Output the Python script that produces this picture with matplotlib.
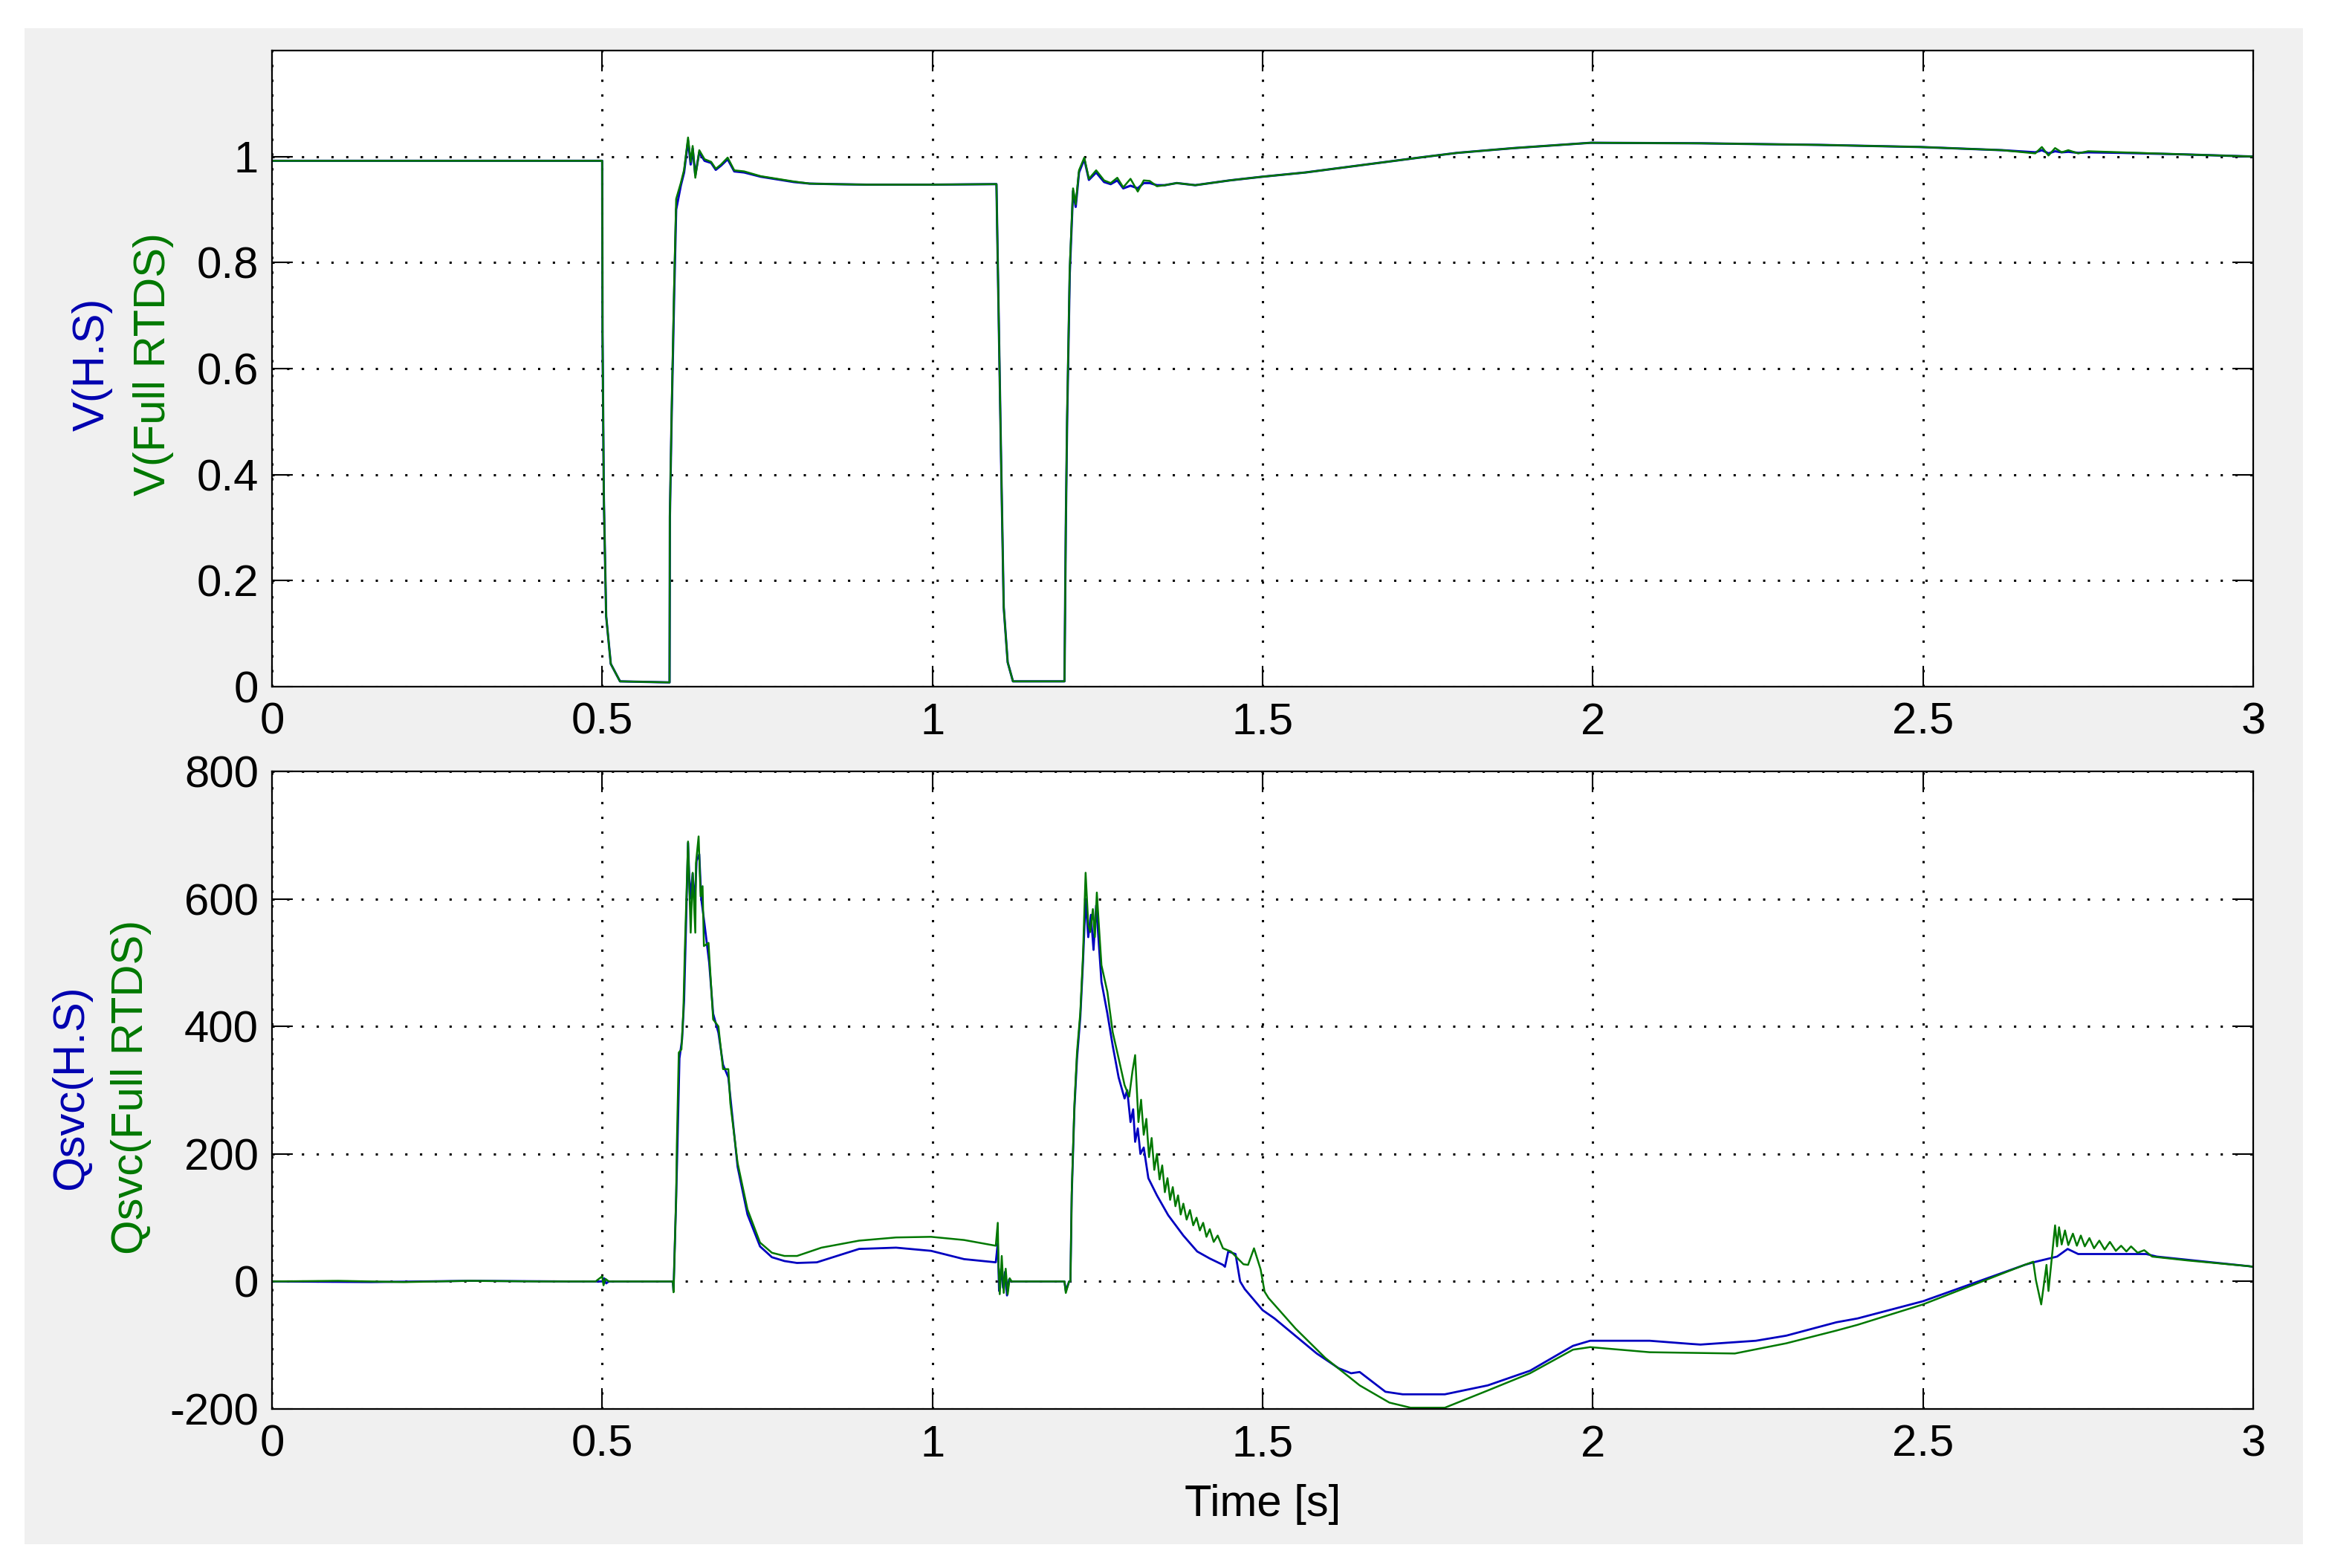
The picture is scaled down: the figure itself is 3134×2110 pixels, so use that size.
import matplotlib
matplotlib.use("Agg")
import matplotlib.pyplot as plt
from matplotlib.patches import Rectangle

# ---------------- data ----------------
t_v = [
    0.000, 0.500, 0.5005, 0.5025, 0.506, 0.513, 0.527, 0.602, 0.6025, 0.605,
    0.609, 0.612, 0.619, 0.624, 0.630, 0.634, 0.637, 0.641, 0.647, 0.655,
    0.665, 0.672, 0.680, 0.690, 0.700, 0.715, 0.740, 0.765, 0.790, 0.814,
    0.850, 0.900, 1.000, 1.097, 1.099, 1.104, 1.108, 1.114, 1.122, 1.200,
    1.202, 1.204, 1.208, 1.213, 1.217, 1.222, 1.230, 1.237, 1.248, 1.260,
    1.270, 1.280, 1.289, 1.300, 1.311, 1.320, 1.329, 1.340, 1.352, 1.370,
    1.398, 1.450, 1.500, 1.565, 1.651, 1.737, 1.795, 1.881, 1.997, 2.164,
    2.343, 2.496, 2.620, 2.670, 2.680, 2.690, 2.700, 2.710, 2.720, 2.735,
    2.750, 2.800, 2.897, 3.000]
v_hs = [
    0.992, 0.992, 0.665, 0.356, 0.133, 0.043, 0.010, 0.008, 0.320, 0.500,
    0.740, 0.900, 0.945, 0.970, 1.030, 0.985, 1.015, 0.965, 1.008, 0.992,
    0.988, 0.975, 0.983, 0.995, 0.972, 0.970, 0.962, 0.957, 0.952, 0.949,
    0.948, 0.947, 0.947, 0.948, 0.800, 0.430, 0.150, 0.046, 0.010, 0.010,
    0.300, 0.500, 0.780, 0.935, 0.905, 0.970, 0.995, 0.956, 0.970, 0.952,
    0.948, 0.955, 0.940, 0.945, 0.940, 0.950, 0.950, 0.946, 0.946, 0.950,
    0.946, 0.955, 0.962, 0.970, 0.984, 0.998, 1.007, 1.016, 1.026, 1.025,
    1.022, 1.018, 1.012, 1.008, 1.012, 1.006, 1.010, 1.008, 1.009, 1.007,
    1.008, 1.007, 1.004, 1.000]
v_rtds = [
    0.992, 0.992, 0.665, 0.356, 0.133, 0.043, 0.010, 0.008, 0.320, 0.510,
    0.760, 0.920, 0.950, 0.975, 1.036, 0.990, 1.020, 0.960, 1.012, 0.995,
    0.990, 0.977, 0.985, 0.998, 0.974, 0.972, 0.963, 0.958, 0.953, 0.949,
    0.948, 0.947, 0.947, 0.948, 0.800, 0.430, 0.150, 0.046, 0.010, 0.010,
    0.300, 0.510, 0.790, 0.940, 0.910, 0.974, 0.998, 0.958, 0.974, 0.955,
    0.950, 0.960, 0.942, 0.958, 0.934, 0.955, 0.954, 0.944, 0.946, 0.950,
    0.946, 0.955, 0.962, 0.970, 0.984, 0.998, 1.007, 1.016, 1.026, 1.025,
    1.022, 1.018, 1.012, 1.006, 1.018, 1.002, 1.016, 1.008, 1.012, 1.006,
    1.010, 1.008, 1.004, 1.000]

t_q_hs = [
    0.000, 0.150, 0.300, 0.450, 0.500, 0.503, 0.506, 0.510, 0.607, 0.608,
    0.612, 0.614, 0.617, 0.621, 0.624, 0.627, 0.630, 0.633, 0.637, 0.640,
    0.643, 0.647, 0.650, 0.655, 0.662, 0.668, 0.676, 0.683, 0.691, 0.697,
    0.705, 0.720, 0.739, 0.757, 0.776, 0.795, 0.825, 0.889, 0.945, 0.998,
    1.048, 1.096, 1.099, 1.101, 1.104, 1.107, 1.110, 1.113, 1.116, 1.120,
    1.200, 1.202, 1.207, 1.209, 1.211, 1.215, 1.219, 1.224, 1.228, 1.232,
    1.236, 1.240, 1.244, 1.248, 1.252, 1.256, 1.265, 1.273, 1.282, 1.291,
    1.295, 1.300, 1.304, 1.307, 1.311, 1.315, 1.320, 1.327, 1.340, 1.357,
    1.380, 1.401, 1.420, 1.440, 1.443, 1.448, 1.459, 1.466, 1.473, 1.500,
    1.518, 1.582, 1.615, 1.634, 1.647, 1.686, 1.712, 1.776, 1.841, 1.905,
    1.970, 1.996, 2.086, 2.149, 2.163, 2.247, 2.293, 2.369, 2.401, 2.500,
    2.654, 2.671, 2.703, 2.719, 2.735, 2.838, 2.854, 2.993, 3.000]
q_hs = [
    0, -1, 1, 0, 0, 5, -3, 0, 0, -15,
    130, 215, 350, 380, 440, 560, 688, 600, 640, 590,
    660, 670, 600, 560, 500, 420, 390, 340, 320, 260,
    180, 105, 55, 38, 32, 29, 30, 51, 53, 48,
    35, 30, 60, -15, 20, -10, 15, -22, 3, 0,
    0, -15, 0, 0, 135, 270, 350, 415, 500, 600,
    540, 575, 520, 590, 530, 470, 420, 370, 320, 287,
    300, 250, 270, 219, 240, 200, 210, 162, 135, 104,
    72, 47, 36, 26, 23, 47, 43, 0, -12, -45,
    -58, -113, -136, -144, -142, -173, -177, -177, -163, -140,
    -101, -93, -93, -98, -99, -93, -85, -64, -58, -31,
    26, 31, 39, 51, 43, 43, 39, 24, 23]

t_q_rtds = [
    0.000, 0.100, 0.200, 0.300, 0.400, 0.490, 0.500, 0.502, 0.505, 0.510,
    0.600, 0.607, 0.608, 0.612, 0.613, 0.616, 0.620, 0.623, 0.625, 0.630,
    0.634, 0.637, 0.641, 0.642, 0.646, 0.649, 0.652, 0.654, 0.661, 0.668,
    0.676, 0.683, 0.691, 0.694, 0.705, 0.720, 0.739, 0.757, 0.776, 0.795,
    0.832, 0.889, 0.945, 0.998, 1.048, 1.096, 1.099, 1.100, 1.102, 1.105,
    1.108, 1.111, 1.114, 1.117, 1.120, 1.200, 1.202, 1.207, 1.209, 1.211,
    1.215, 1.219, 1.224, 1.228, 1.232, 1.236, 1.239, 1.243, 1.246, 1.249,
    1.252, 1.256, 1.265, 1.273, 1.282, 1.291, 1.298, 1.303, 1.307, 1.312,
    1.316, 1.320, 1.324, 1.328, 1.332, 1.336, 1.340, 1.344, 1.348, 1.352,
    1.356, 1.360, 1.364, 1.368, 1.372, 1.376, 1.380, 1.385, 1.390, 1.395,
    1.400, 1.405, 1.410, 1.415, 1.420, 1.426, 1.432, 1.440, 1.452, 1.471,
    1.478, 1.487, 1.497, 1.503, 1.509, 1.550, 1.595, 1.647, 1.692, 1.724,
    1.776, 1.841, 1.905, 1.970, 1.996, 2.086, 2.215, 2.293, 2.369, 2.401,
    2.500, 2.654, 2.667, 2.671, 2.679, 2.687, 2.690, 2.700, 2.703, 2.706,
    2.710, 2.715, 2.720, 2.727, 2.733, 2.739, 2.745, 2.752, 2.759, 2.767,
    2.775, 2.783, 2.792, 2.800, 2.808, 2.815, 2.825, 2.835, 2.847, 2.900,
    2.993, 3.000]
q_rtds = [
    0, 1, -1, 1, 0, 0, 8, -6, 4, 0,
    0, 0, -17, 134, 212, 359, 364, 427, 515, 690,
    547, 641, 547, 656, 698, 604, 620, 526, 531, 411,
    400, 333, 333, 280, 186, 113, 61, 45, 40, 40,
    53, 64, 69, 70, 65, 56, 92, 30, -20, 40,
    -18, 20, -20, 5, 0, 0, -18, 0, 0, 141,
    276, 360, 422, 511, 641, 560, 548, 584, 540, 610,
    560, 496, 454, 391, 350, 308, 290, 330, 355, 250,
    285, 230, 255, 195, 225, 175, 200, 160, 182, 140,
    162, 128, 148, 118, 135, 105, 122, 97, 112, 88,
    100, 80, 92, 70, 82, 62, 72, 52, 47, 27,
    26, 52, 19, -16, -26, -74, -120, -163, -190, -198,
    -198, -171, -144, -107, -103, -111, -113, -97, -77, -68,
    -36, 26, 31, 2, -36, 26, -15, 88, 55, 85,
    58, 80, 57, 75, 56, 72, 55, 68, 52, 64,
    50, 62, 48, 56, 47, 55, 45, 49, 39, 33,
    24, 23]

x_ticks = [0, 0.5, 1, 1.5, 2, 2.5, 3]
x_tick_labels = ["0", "0.5", "1", "1.5", "2", "2.5", "3"]
v_ticks = [0, 0.2, 0.4, 0.6, 0.8, 1]
v_tick_labels = ["0", "0.2", "0.4", "0.6", "0.8", "1"]
q_ticks = [-200, 0, 200, 400, 600, 800]
q_tick_labels = ["-200", "0", "200", "400", "600", "800"]

# ---------------- styling ----------------
W, H = 3134, 2110
DPI = 100
BLUE = "#0000c0"
LBLUE = "#0000b0"
GREEN = "#007800"
FS = 43
plt.rcParams["font.family"] = ["Liberation Sans", "DejaVu Sans"]

fig = plt.figure(figsize=(W / DPI, H / DPI), dpi=DPI, facecolor="white")
fig.patches.append(Rectangle((33 / W, 1 - 2078 / H), (3099 - 33) / W, (2078 - 38) / H,
                             transform=fig.transFigure, facecolor="#f0f0f0",
                             edgecolor="none", zorder=-10))


def px_axes(left, top, right, bottom):
    return fig.add_axes([left / W, 1 - bottom / H, (right - left) / W, (bottom - top) / H])


ax1 = px_axes(366, 68, 3032, 924)
ax2 = px_axes(366, 1038, 3032, 1896)

for ax in (ax1, ax2):
    ax.set_facecolor("white")
    ax.set_xlim(0, 3)
    ax.set_xticks(x_ticks)
    ax.set_xticklabels(x_tick_labels)
    ax.tick_params(direction="in", length=20, width=1.5, top=True, right=True,
                   labelsize=FS, colors="black")
    ax.tick_params(axis="x", pad=15)
    ax.tick_params(axis="y", pad=13)
    for sp in ax.spines.values():
        sp.set_linewidth(1.6)
        sp.set_color("black")
    ax.grid(True, color="black", linestyle=(0, (1, 5.5)), linewidth=2.2)
    ax.set_axisbelow(True)

ax1.set_ylim(0, 1.2)
ax1.set_yticks(v_ticks)
ax1.set_yticklabels(v_tick_labels)
ax1.plot(t_v, v_hs, color=BLUE, linewidth=2.2)
ax1.plot(t_v, v_rtds, color=GREEN, linewidth=1.8)

ax2.set_ylim(-200, 800)
ax2.set_yticks(q_ticks)
ax2.set_yticklabels(q_tick_labels)
ax2.plot(t_q_hs, q_hs, color=BLUE, linewidth=2.0)
ax2.plot(t_q_rtds, q_rtds, color=GREEN, linewidth=1.8)

# y labels (two coloured lines each)
fig.text(124 / W, 1 - 490 / H, "V(H.S)", color=LBLUE, fontsize=FS, rotation=90,
         ha="center", va="center")
fig.text(206 / W, 1 - 490 / H, "V(Full RTDS)", color=GREEN, fontsize=FS, rotation=90,
         ha="center", va="center")
fig.text(96 / W, 1 - 1463 / H, "Qsvc(H.S)", color=LBLUE, fontsize=FS, rotation=90,
         ha="center", va="center")
fig.text(176 / W, 1 - 1463 / H, "Qsvc(Full RTDS)", color=GREEN, fontsize=FS, rotation=90,
         ha="center", va="center")
fig.text(1699 / W, 1 - 2024 / H, "Time [s]", color="black", fontsize=FS,
         ha="center", va="center")

fig.savefig("out.png", dpi=DPI, facecolor=fig.get_facecolor())
